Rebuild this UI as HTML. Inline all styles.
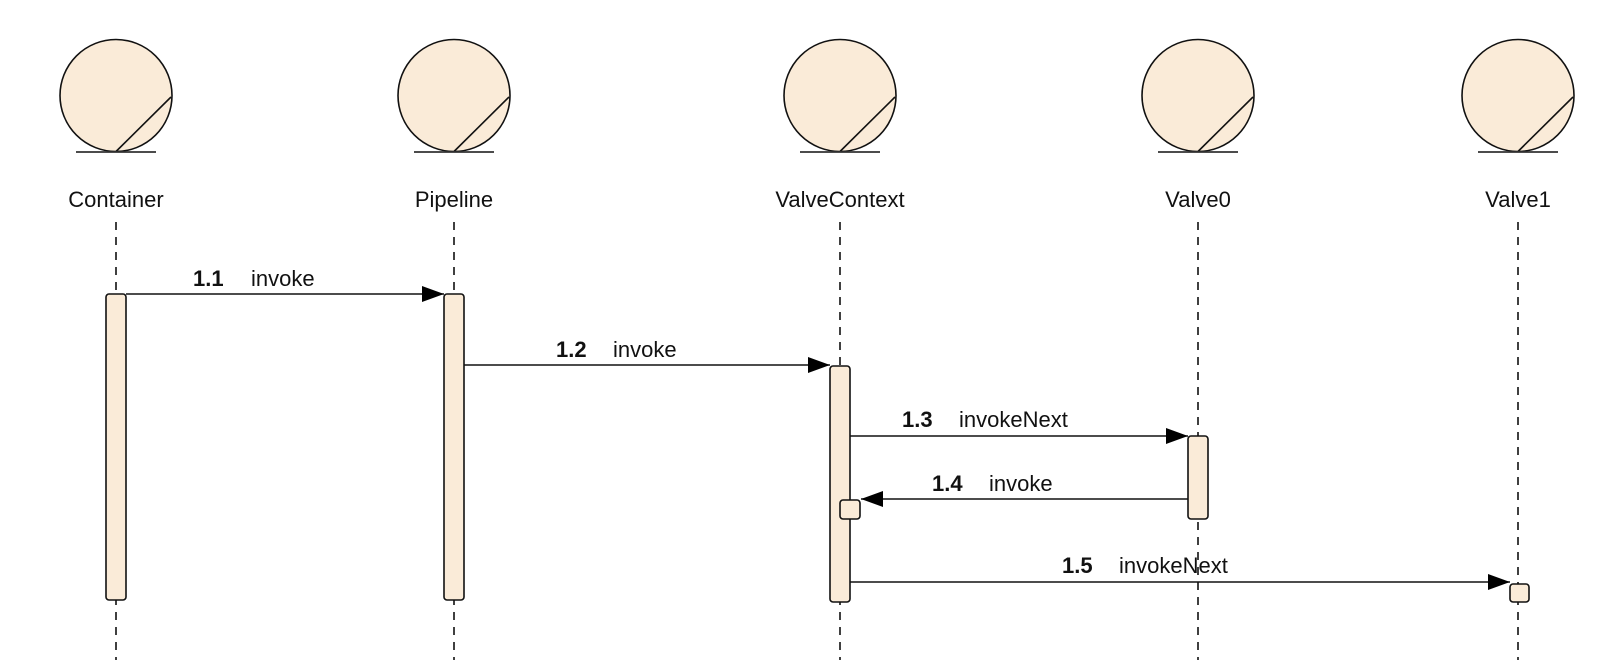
<!DOCTYPE html>
<html><head><meta charset="utf-8"><style>
html,body{margin:0;padding:0;background:#fff;}
svg{display:block;}
text{font-family:"Liberation Sans",Arial,sans-serif;font-size:22px;fill:#111;}
.b{font-weight:bold;}
</style></head><body>
<svg width="1614" height="664" viewBox="0 0 1614 664" xmlns="http://www.w3.org/2000/svg">
<defs>
<g id="actor">
<circle cx="0" cy="95.5" r="56" fill="#FAEBD8" stroke="#111" stroke-width="1.6"/>
<line x1="0" y1="151.5" x2="55" y2="97" stroke="#111" stroke-width="1.6"/>
<line x1="-40" y1="152" x2="40" y2="152" stroke="#333" stroke-width="1.8"/>
</g>
<marker id="ah" markerWidth="22" markerHeight="16" refX="22" refY="8" orient="auto" markerUnits="userSpaceOnUse">
<path d="M0,0 L22,8 L0,16 Z" fill="#000"/>
</marker>
</defs>
<g stroke="#111" stroke-width="1.6" stroke-dasharray="8,7">
<line x1="116" y1="222" x2="116" y2="660"/>
<line x1="454" y1="222" x2="454" y2="660"/>
<line x1="840" y1="222" x2="840" y2="660"/>
<line x1="1198" y1="222" x2="1198" y2="660"/>
<line x1="1518" y1="222" x2="1518" y2="660"/>
</g>
<use href="#actor" x="116"/>
<use href="#actor" x="454"/>
<use href="#actor" x="840"/>
<use href="#actor" x="1198"/>
<use href="#actor" x="1518"/>
<g text-anchor="middle">
<text x="116" y="207">Container</text>
<text x="454" y="207">Pipeline</text>
<text x="840" y="207">ValveContext</text>
<text x="1198" y="207">Valve0</text>
<text x="1518" y="207">Valve1</text>
</g>
<g fill="#FAEBD8" stroke="#111" stroke-width="1.6">
<rect x="106" y="294" width="20" height="306" rx="3"/>
<rect x="444" y="294" width="20" height="306" rx="3"/>
<rect x="830" y="366" width="20" height="236" rx="3"/>
<rect x="1188" y="436" width="20" height="83" rx="3"/>
<rect x="840" y="500" width="20" height="19" rx="3"/>
<rect x="1510" y="584" width="19" height="18" rx="3"/>
</g>
<g stroke="#111" stroke-width="1.6" fill="none">
<line x1="126" y1="294" x2="444" y2="294" marker-end="url(#ah)"/>
<line x1="464" y1="365" x2="830" y2="365" marker-end="url(#ah)"/>
<line x1="850" y1="436" x2="1188" y2="436" marker-end="url(#ah)"/>
<line x1="1188" y1="499" x2="861" y2="499" marker-end="url(#ah)"/>
<line x1="850" y1="582" x2="1510" y2="582" marker-end="url(#ah)"/>
</g>
<text class="b" x="193" y="286">1.1</text><text x="251" y="286">invoke</text>
<text class="b" x="556" y="357">1.2</text><text x="613" y="357">invoke</text>
<text class="b" x="902" y="427">1.3</text><text x="959" y="427">invokeNext</text>
<text class="b" x="932" y="491">1.4</text><text x="989" y="491">invoke</text>
<text class="b" x="1062" y="573">1.5</text><text x="1119" y="573">invokeNext</text>
</svg>
</body></html>
